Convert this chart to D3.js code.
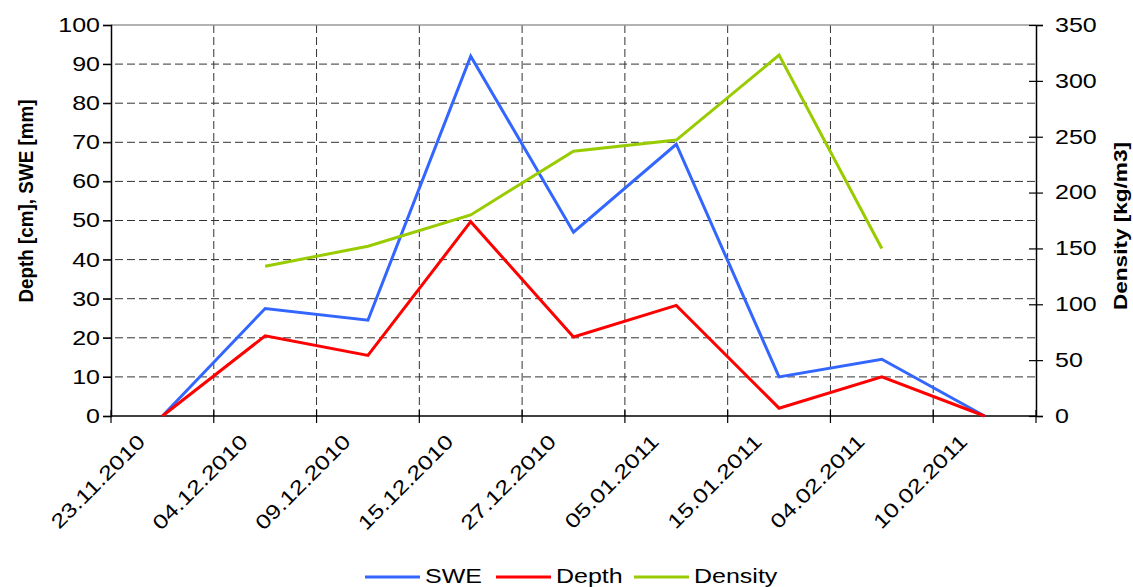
<!DOCTYPE html>
<html>
<head>
<meta charset="utf-8">
<script src="https://cdn.jsdelivr.net/npm/d3@7"></script>
<style>
  body { margin: 0; background: #fff; }
  svg { font-family: "Liberation Sans", Arial, sans-serif; }
</style>
</head>
<body>
<svg id="chart" width="1133" height="587"></svg>
<script>
// Data
var dates = ["23.11.2010", "04.12.2010", "09.12.2010", "15.12.2010", "27.12.2010",
             "05.01.2011", "15.01.2011", "04.02.2011", "10.02.2011"];
var swe = [0, 27.5, 24.5, 92, 47, 69.5, 10, 14.5, 0];
var depth = [0, 20.5, 15.5, 49.7, 20.2, 28.3, 2, 10, 0];
var density = [null, 134, 152, 180, 237, 247, 323, 150, null];
var leftTicks = [0, 10, 20, 30, 40, 50, 60, 70, 80, 90, 100];
var rightTicks = [0, 50, 100, 150, 200, 250, 300, 350];

var svg = d3.select("#chart");
var margin = {left: 111, right: 97, top: 25, bottom: 171};
var width = 1133 - margin.left - margin.right,
    height = 587 - margin.top - margin.bottom;
var stretch = 1.25; // the reference text is drawn wide

var g = svg.append("g").attr("transform", "translate(" + margin.left + "," + margin.top + ")");

var x = d3.scaleBand().domain(dates).range([0, width]).padding(0);
var yL = d3.scaleLinear().domain([0, 100]).range([height, 0]);
var yR = d3.scaleLinear().domain([0, 350]).range([height, 0]);

function cx(d) { return x(d) + x.bandwidth() / 2; }

// horizontal gridlines
g.append("g").selectAll("line")
  .data(leftTicks.filter(function(t) { return t > 0 && t < 100; }))
  .enter().append("line")
  .attr("x1", -8).attr("x2", width)
  .attr("y1", function(d) { return yL(d); }).attr("y2", function(d) { return yL(d); })
  .attr("stroke", "#333").attr("stroke-width", 1).attr("stroke-dasharray", "8,4");

// vertical gridlines at category boundaries
var bounds = dates.slice(1).map(function(d) { return x(d); });
g.append("g").selectAll("line")
  .data(bounds)
  .enter().append("line")
  .attr("x1", function(d) { return d; }).attr("x2", function(d) { return d; })
  .attr("y1", 0).attr("y2", height)
  .attr("stroke", "#333").attr("stroke-width", 1).attr("stroke-dasharray", "8,4");

// top border
g.append("line").attr("x1", 0).attr("x2", width).attr("y1", 0).attr("y2", 0)
  .attr("stroke", "#999").attr("stroke-width", 1.5);

// left axis
var leftAxis = g.append("g")
  .call(d3.axisLeft(yL).tickValues(leftTicks).tickSize(8).tickPadding(3));
leftAxis.select(".domain").attr("stroke", "#000").attr("stroke-width", 1.5);
leftAxis.selectAll(".tick line").attr("stroke", "#000").attr("stroke-width", 1.2);
leftAxis.selectAll("text").attr("font-size", 20).attr("fill", "#000")
  .attr("x", 0).attr("transform", "translate(-11,0) scale(" + stretch + ",1)");

// right axis, ticks crossing
var rightAxis = g.append("g").attr("transform", "translate(" + width + ",0)")
  .call(d3.axisRight(yR).tickValues(rightTicks).tickSize(7).tickPadding(12));
rightAxis.select(".domain").attr("stroke", "#000").attr("stroke-width", 1.5);
rightAxis.selectAll(".tick line").attr("x1", -7).attr("stroke", "#000").attr("stroke-width", 1.2);
rightAxis.selectAll("text").attr("font-size", 20).attr("fill", "#000")
  .attr("x", 0).attr("transform", "translate(19,0) scale(" + stretch + ",1)");

// bottom axis, ticks at category boundaries
var bottom = g.append("g").attr("transform", "translate(0," + height + ")");
bottom.append("line").attr("x1", 0).attr("x2", width).attr("stroke", "#000").attr("stroke-width", 1.5);
bottom.selectAll(".xt").data(dates.map(function(d) { return x(d); }).concat([width]))
  .enter().append("line")
  .attr("x1", function(d) { return d; }).attr("x2", function(d) { return d; })
  .attr("y1", -6).attr("y2", 7)
  .attr("stroke", "#000").attr("stroke-width", 1.2);
bottom.selectAll(".xl").data(dates)
  .enter().append("text")
  .attr("transform", function(d) {
    return "translate(" + (cx(d) - 26) + ",17) rotate(-45) scale(" + stretch + ",1)";
  })
  .attr("text-anchor", "end")
  .attr("dy", "0.7em")
  .attr("font-size", 20)
  .attr("fill", "#000")
  .text(function(d) { return d; });

// lines
var lineL = d3.line().x(function(d, i) { return cx(dates[i]); }).y(function(d) { return yL(d); });
var lineR = d3.line()
  .defined(function(d) { return d !== null; })
  .x(function(d, i) { return cx(dates[i]); }).y(function(d) { return yR(d); });

var series = [
  {name: "SWE", color: "#3366ff"},
  {name: "Depth", color: "#ff0000"},
  {name: "Density", color: "#99cc00"}
];

g.append("path").datum(swe).attr("d", lineL)
  .attr("fill", "none").attr("stroke", series[0].color).attr("stroke-width", 3);
g.append("path").datum(depth).attr("d", lineL)
  .attr("fill", "none").attr("stroke", series[1].color).attr("stroke-width", 3);
g.append("path").datum(density).attr("d", lineR)
  .attr("fill", "none").attr("stroke", series[2].color).attr("stroke-width", 3);

// axis titles
svg.append("text")
  .attr("transform", "translate(33,201) rotate(-90)")
  .attr("text-anchor", "middle")
  .attr("font-size", 20).attr("font-weight", "bold")
  .attr("textLength", 203).attr("lengthAdjust", "spacingAndGlyphs")
  .text("Depth [cm], SWE [mm]");
svg.append("text")
  .attr("transform", "translate(1127,226) rotate(-90)")
  .attr("text-anchor", "middle")
  .attr("font-size", 19).attr("font-weight", "bold")
  .attr("textLength", 168).attr("lengthAdjust", "spacingAndGlyphs")
  .text("Density [kg/m3]");

// legend
var legendX = [365, 496, 634];
var legend = svg.append("g");
legend.selectAll("line").data(series).enter().append("line")
  .attr("x1", function(d, i) { return legendX[i]; })
  .attr("x2", function(d, i) { return legendX[i] + 55; })
  .attr("y1", 577).attr("y2", 577)
  .attr("stroke", function(d) { return d.color; }).attr("stroke-width", 3);
legend.selectAll("text").data(series).enter().append("text")
  .attr("transform", function(d, i) {
    return "translate(" + (legendX[i] + 60) + ",583) scale(" + stretch + ",1)";
  })
  .attr("font-size", 20)
  .text(function(d) { return d.name; });
</script>
</body>
</html>
